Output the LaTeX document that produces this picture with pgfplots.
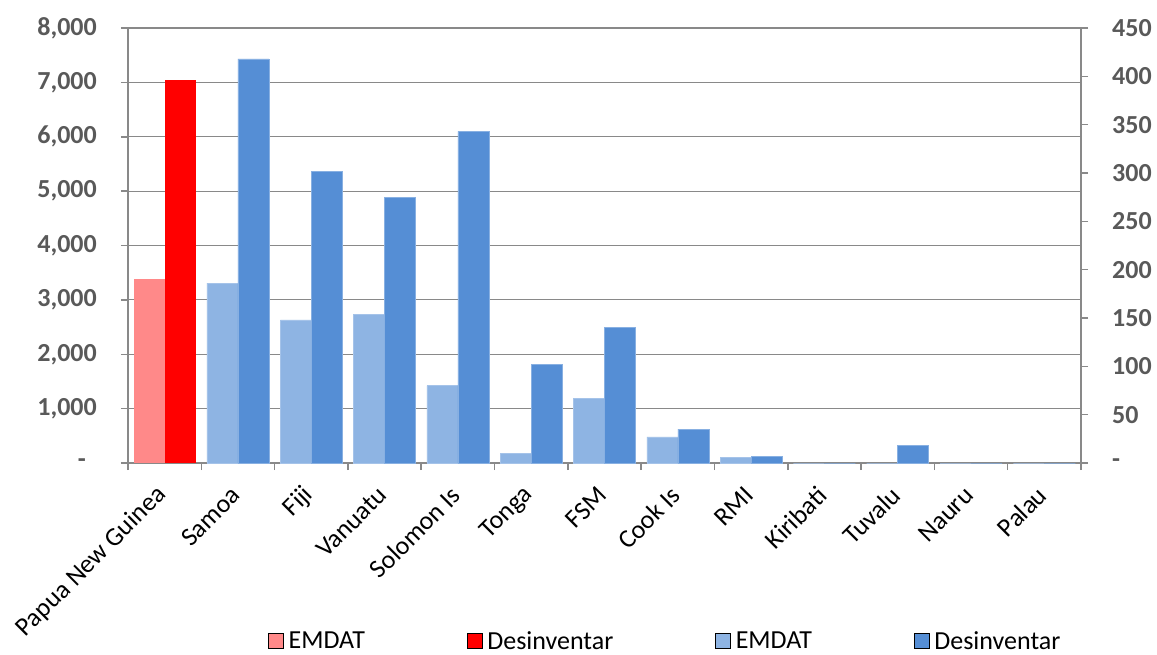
\documentclass[border=0pt]{standalone}
\usepackage{pgfplots}
\pgfplotsset{compat=1.18}
\usepackage{fontspec}
\setmainfont{Carlito}

\definecolor{emdatred}{RGB}{255,137,137}
\definecolor{desred}{RGB}{255,0,0}
\definecolor{emdatblue}{RGB}{142,180,227}
\definecolor{desblue}{RGB}{85,142,213}
\definecolor{axisgray}{RGB}{137,137,137}
\definecolor{labgray}{RGB}{89,89,89}

\newcommand\chartfont{\fontsize{26bp}{31bp}\selectfont}

\pgfplotsset{
  common/.style={
    width=953bp, height=435bp, scale only axis,
    xmin=-0.5, xmax=12.5, ymin=0,
    ybar, bar width=31bp,
    tick align=outside,
    major tick length=7bp, minor tick length=7bp,
    axis line style={draw=axisgray, line width=1.5bp},
    tick style={draw=axisgray, line width=1.5bp},
    yticklabel style={font=\chartfont\bfseries, text=labgray, inner sep=0pt},
  },
}

\begin{document}
\begin{tikzpicture}
\begin{axis}[common, name=main,
    ymax=8000,
    axis x line*=bottom, axis y line*=left,
    ytick={0,1000,...,8000},
    yticklabels={{\makebox[19bp][l]{-}},{1,000},{2,000},{3,000},{4,000},{5,000},{6,000},{7,000},{8,000}},
    yticklabel style={xshift=-24bp},
    ymajorgrids, grid style={draw=axisgray, line width=1.2bp},
    xtick={0,...,12},
    xticklabels={Papua New Guinea,Samoa,Fiji,Vanuatu,Solomon Is,Tonga,FSM,Cook Is,RMI,Kiribati,Tuvalu,Nauru,Palau},
    xticklabel style={font=\chartfont, xshift=-2bp, yshift=-21bp, rotate=45, anchor=east, inner sep=0pt},
    major x tick style={draw=none},
    minor xtick={-0.5,0.5,...,12.5},
  ]
  \addplot[fill=emdatred, draw=none, bar shift=-15.5bp] coordinates {(0,3380)};
  \addplot[fill=desred, draw=none, bar shift=15.5bp] coordinates {(0,7040)};
\end{axis}

\begin{axis}[common,
    ymax=450,
    axis x line=none, axis y line*=right,
    ytick={0,50,...,450},
    yticklabels={-,50,100,150,200,250,300,350,400,450},
    yticklabel style={anchor=west, xshift=24bp},
    legend columns=4,
    legend image code/.code={\fill[#1] (0bp,-7.5bp) rectangle (15bp,7.5bp);},
    legend style={draw=none, fill=none, inner sep=0pt, font=\chartfont,
      at={(axis description cs:0.147,-0.409)}, anchor=west,
      nodes={inner xsep=5bp, inner ysep=0pt},
      /tikz/every even column/.append style={column sep=97bp}},
  ]
  \addplot[fill=emdatblue, draw=emdatblue!80!white, line width=0.6bp, bar shift=-15.5bp, forget plot]
    coordinates {(1,186) (2,148) (3,154) (4,80) (5,10) (6,67) (7,27) (8,6) (9,0) (10,0) (11,0) (12,0)};
  \addplot[fill=desblue, draw=desblue!70!white, line width=0.6bp, bar shift=15.5bp, forget plot]
    coordinates {(1,418) (2,302) (3,275) (4,343) (5,102) (6,140) (7,35) (8,7) (9,0) (10,18) (11,0) (12,0)};
  \addlegendimage{fill=emdatred}
  \addlegendentry{EMDAT}
  \addlegendimage{fill=desred}
  \addlegendentry{Desinventar}
  \addlegendimage{fill=emdatblue}
  \addlegendentry{EMDAT}
  \addlegendimage{fill=desblue}
  \addlegendentry{Desinventar}
\end{axis}

\path (main.south west) ++(-128bp,-192bp) rectangle ++(1157bp,655bp);
\end{tikzpicture}
\end{document}
